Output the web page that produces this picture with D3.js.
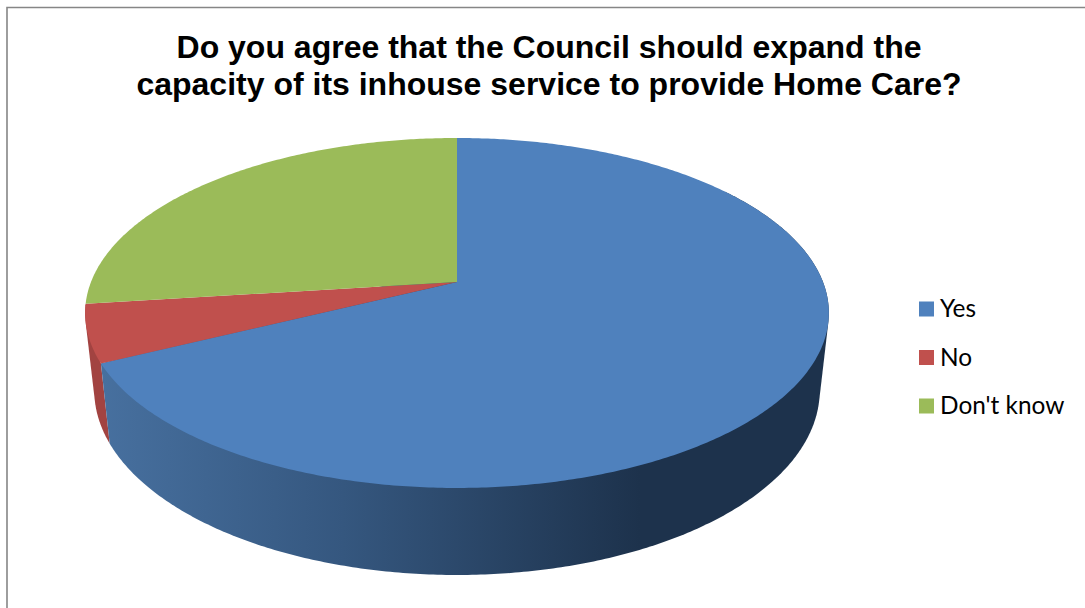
<!DOCTYPE html>
<html>
<head>
<meta charset="utf-8">
<script src="https://cdnjs.cloudflare.com/ajax/libs/d3/7.8.5/d3.min.js"></script>
<style>
  html, body { margin: 0; padding: 0; background: #fff; }
  svg { display: block; }
</style>
</head>
<body>
<div id="chart"></div>
<script>
const titleLines = ["Do you agree that the Council should expand the", "capacity of its inhouse service to provide Home Care?"];
const categories = ["Yes", "No", "Don't know"];
const values = [67.7, 5.3, 27];
const topColors = ["#4f81bd", "#c0504d", "#9bbb59"];

const width = 1085, height = 608;
const svg = d3.select("#chart").append("svg").attr("width", width).attr("height", height);

// chart frame, only top and left edges are in the picture
svg.append("path")
  .attr("d", "M7,608V7.5H1085")
  .attr("fill", "none").attr("stroke", "#868686").attr("stroke-width", 1.6);

// title
svg.append("text")
  .attr("text-anchor", "middle")
  .attr("font-family", "Liberation Sans, Arial, sans-serif")
  .attr("font-weight", "bold")
  .attr("font-size", 32)
  .attr("fill", "#000")
  .selectAll("tspan").data(titleLines).join("tspan")
  .attr("x", 549)
  .attr("y", (d, i) => 58 + i * 37)
  .text(d => d);

// perspective projection of the pie disc, top face and bottom face
const topFace = { cx: 457, cy: 282, b: 366, a: 169.5, k: 0.177 };
const bottomFace = { cx: 457, cy: 357.6, b: 357, a: 178.9, k: 0.177 };
function project(face, angle) {
  const u = Math.sin(angle), v = Math.cos(angle);
  const w = 1 + face.k * v;
  return [face.cx + face.b * u / w, face.cy - face.a * v / w];
}
function arcPoints(face, a0, a1) {
  const n = Math.max(2, Math.ceil(Math.abs(a1 - a0) / 0.01));
  return d3.range(n + 1).map(i => project(face, a0 + (a1 - a0) * i / n));
}
const line = d3.line();

const color = d3.scaleOrdinal().domain(categories).range(topColors);
const pie = d3.pie().sort(null).value(d => d.value);
const slices = pie(categories.map((c, i) => ({ name: c, value: values[i] })));

// side wall gradient
const defs = svg.append("defs");
const grad = defs.append("linearGradient").attr("id", "wallBlue")
  .attr("gradientUnits", "userSpaceOnUse")
  .attr("x1", 100).attr("x2", 640).attr("y1", 0).attr("y2", 0);
grad.append("stop").attr("offset", 0).attr("stop-color", "#47709f");
grad.append("stop").attr("offset", 0.45).attr("stop-color", "#35577f");
grad.append("stop").attr("offset", 1).attr("stop-color", "#1d324c");

// side walls: hull of both arcs, the top face then covers the upper part
function drawWall(a0, a1, fill) {
  const hull = d3.polygonHull([...arcPoints(topFace, a0, a1), ...arcPoints(bottomFace, a0, a1)]);
  svg.append("path").attr("d", line(hull) + "Z").attr("fill", fill);
}
const red = slices[1], blue = slices[0];
drawWall(red.startAngle, red.endAngle, "#a24341");
drawWall(Math.PI * 0.3, blue.endAngle, "url(#wallBlue)");

// top face
svg.append("g").selectAll("path").data(slices).join("path")
  .attr("d", d => line([[topFace.cx, topFace.cy], ...arcPoints(topFace, d.startAngle, d.endAngle)]) + "Z")
  .attr("fill", d => color(d.data.name));

// legend
const legendY = d3.scalePoint().domain(categories).range([309, 406]);
const legend = svg.append("g").selectAll("g").data(categories).join("g")
  .attr("transform", d => `translate(919,${legendY(d)})`);
legend.append("rect")
  .attr("x", 0).attr("y", -7.5).attr("width", 15).attr("height", 15)
  .attr("fill", d => color(d));
legend.append("text")
  .attr("x", 21).attr("y", 8)
  .attr("font-family", "Lato, Carlito, sans-serif")
  .attr("font-size", 24.4)
  .attr("fill", "#000")
  .text(d => d);
</script>
</body>
</html>
